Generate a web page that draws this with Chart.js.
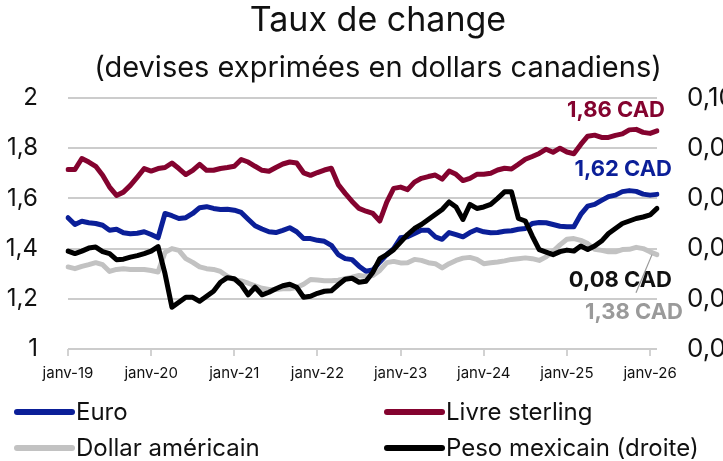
<!DOCTYPE html>
<html lang="fr">
<head>
<meta charset="utf-8">
<title>Taux de change</title>
<script src="https://cdn.jsdelivr.net/npm/chart.js@4"></script>
<style>
  html, body { margin: 0; padding: 0; background: #fff; overflow: hidden; }
  #wrap { width: 756px; height: 461px; }
</style>
</head>
<body>
<div id="wrap"><canvas id="fxChart" width="756" height="461"></canvas></div>
<script>
// valeurs mensuelles, janv-19 a fevr-26 (CAD par unite de devise)
const euro = [
  1.523, 1.496, 1.509, 1.503, 1.500, 1.493, 1.473, 1.477, 1.463, 1.459, 1.461, 1.467,
  1.456, 1.443, 1.540, 1.531, 1.520, 1.523, 1.540, 1.563, 1.567, 1.560, 1.556, 1.557,
  1.553, 1.544, 1.517, 1.491, 1.478, 1.467, 1.464, 1.473, 1.483, 1.467, 1.440, 1.440,
  1.433, 1.429, 1.413, 1.376, 1.360, 1.356, 1.330, 1.310, 1.315, 1.347, 1.376, 1.400,
  1.443, 1.447, 1.460, 1.473, 1.473, 1.447, 1.437, 1.464, 1.456, 1.447, 1.464, 1.476,
  1.467, 1.463, 1.464, 1.469, 1.471, 1.477, 1.480, 1.500, 1.504, 1.503, 1.496, 1.489,
  1.487, 1.487, 1.536, 1.569, 1.576, 1.592, 1.607, 1.613, 1.627, 1.631, 1.628, 1.617,
  1.613, 1.616
];
const livre = [
  1.715, 1.715, 1.759, 1.745, 1.728, 1.692, 1.645, 1.612, 1.625, 1.652, 1.685, 1.719,
  1.709, 1.719, 1.723, 1.741, 1.719, 1.695, 1.712, 1.736, 1.712, 1.712, 1.719, 1.723,
  1.728, 1.755, 1.745, 1.728, 1.712, 1.708, 1.723, 1.737, 1.745, 1.741, 1.702, 1.692,
  1.703, 1.713, 1.720, 1.655, 1.620, 1.588, 1.560, 1.549, 1.540, 1.510, 1.585, 1.640,
  1.645, 1.635, 1.665, 1.680, 1.687, 1.693, 1.677, 1.709, 1.696, 1.671, 1.680, 1.696,
  1.696, 1.700, 1.713, 1.720, 1.717, 1.736, 1.756, 1.767, 1.779, 1.796, 1.784, 1.800,
  1.785, 1.778, 1.815, 1.848, 1.852, 1.843, 1.843, 1.851, 1.857, 1.873, 1.875, 1.863,
  1.859, 1.869
];
const dollar = [
  1.327, 1.320, 1.329, 1.336, 1.344, 1.336, 1.309, 1.317, 1.320, 1.317, 1.317, 1.317,
  1.313, 1.307, 1.385, 1.400, 1.393, 1.360, 1.345, 1.327, 1.320, 1.317, 1.309, 1.290,
  1.276, 1.271, 1.262, 1.252, 1.242, 1.237, 1.237, 1.240, 1.240, 1.245, 1.258, 1.277,
  1.275, 1.272, 1.272, 1.274, 1.280, 1.286, 1.293, 1.289, 1.293, 1.313, 1.344, 1.349,
  1.343, 1.344, 1.357, 1.353, 1.344, 1.340, 1.323, 1.340, 1.353, 1.362, 1.365, 1.357,
  1.340, 1.344, 1.347, 1.351, 1.357, 1.360, 1.363, 1.360, 1.353, 1.367, 1.389, 1.415,
  1.437, 1.440, 1.433, 1.420, 1.397, 1.393, 1.387, 1.387, 1.396, 1.397, 1.405, 1.400,
  1.387, 1.376
];
const peso = [
  0.0695, 0.0690, 0.0695, 0.0701, 0.0703, 0.0694, 0.0690, 0.0678, 0.0679, 0.0683, 0.0686, 0.0690,
  0.0695, 0.0704, 0.0650, 0.0583, 0.0593, 0.0603, 0.0603, 0.0595, 0.0605, 0.0615, 0.0633, 0.0642,
  0.0640, 0.0628, 0.0608, 0.0623, 0.0608, 0.0613, 0.0620, 0.0626, 0.0629, 0.0623, 0.0603, 0.0605,
  0.0611, 0.0615, 0.0616, 0.0628, 0.0639, 0.0641, 0.0633, 0.0635, 0.0653, 0.0680, 0.0688, 0.0698,
  0.0713, 0.0728, 0.0740, 0.0748, 0.0758, 0.0768, 0.0778, 0.0793, 0.0783, 0.0758, 0.0788, 0.0780,
  0.0783, 0.0788, 0.0800, 0.0813, 0.0813, 0.0760, 0.0755, 0.0725, 0.0698, 0.0693, 0.0688, 0.0694,
  0.0697, 0.0695, 0.0705, 0.0698, 0.0705, 0.0715, 0.0730, 0.0740, 0.0750, 0.0755, 0.0760, 0.0763,
  0.0767, 0.0780
];

const mois = ['janv', 'févr', 'mars', 'avr', 'mai', 'juin', 'juil', 'août', 'sept', 'oct', 'nov', 'déc'];
const annees = ['19', '20', '21', '22', '23', '24', '25', '26'];
const seriesNoms = ['Euro', 'Livre sterling', 'Dollar américain', 'Peso mexicain (droite)'];
const etiquettesFinTextes = ['1,62 CAD', '1,86 CAD', '1,38 CAD', '0,08 CAD'];

const etiquettes = [];
annees.forEach(a => mois.forEach(m => {
    if (etiquettes.length < euro.length) etiquettes.push(m + '-' + a);
}));

const police = 'Inter, "Noto Sans", sans-serif';
const bleu = '#0b1f98';
const rouge = '#84032f';
const gris = '#c2c2c2';
const noir = '#000000';

// legende en deux colonnes sous le graphique
const legendeBas = {
    id: 'legendeBas',
    afterDraw(chart) {
        const ctx = chart.ctx;
        const places = [[14, 412], [384, 412], [14, 448], [384, 448]];
        ctx.save();
        ctx.font = '24px ' + police;
        ctx.textBaseline = 'middle';
        ctx.lineCap = 'round';
        chart.data.datasets.forEach((ds, i) => {
            const [px, py] = places[i];
            ctx.strokeStyle = ds.borderColor;
            ctx.lineWidth = 6;
            ctx.beginPath();
            ctx.moveTo(px + 3, py);
            ctx.lineTo(px + 58, py);
            ctx.stroke();
            ctx.fillStyle = '#111';
            ctx.fillText(ds.label, px + 62, py + 1);
        });
        ctx.restore();
    }
};

// valeurs en fin de serie
const etiquettesFin = {
    id: 'etiquettesFin',
    afterDatasetsDraw(chart) {
        const { ctx, scales: { x, y } } = chart;
        const xFin = x.getPixelForValue(euro.length - 1);
        const reglages = [
            { couleur: bleu, dx: 15, yv: 1.716 },
            { couleur: rouge, dx: 8, yv: 1.952 },
            { couleur: '#9a9a9a', dx: 26, yv: 1.144 },
            { couleur: '#111', dx: 15, yv: 1.272 }
        ];
        ctx.save();
        // trait de rappel pour le dollar americain
        ctx.strokeStyle = '#999';
        ctx.lineWidth = 1.2;
        ctx.beginPath();
        ctx.moveTo(xFin - 5, y.getPixelForValue(dollar[dollar.length - 1]));
        ctx.lineTo(xFin - 21, y.getPixelForValue(1.224));
        ctx.stroke();
        ctx.font = 'bold 22px ' + police;
        ctx.textAlign = 'right';
        ctx.textBaseline = 'middle';
        reglages.forEach((r, i) => {
            ctx.fillStyle = r.couleur;
            ctx.fillText(etiquettesFinTextes[i], xFin + r.dx, y.getPixelForValue(r.yv));
        });
        ctx.restore();
    }
};

new Chart(document.getElementById('fxChart'), {
    type: 'line',
    data: {
        labels: etiquettes,
        datasets: [
            { label: seriesNoms[0], data: euro, borderColor: bleu, yAxisID: 'y', order: 2 },
            { label: seriesNoms[1], data: livre, borderColor: rouge, yAxisID: 'y', order: 1 },
            { label: seriesNoms[2], data: dollar, borderColor: gris, yAxisID: 'y', order: 3 },
            { label: seriesNoms[3], data: peso, borderColor: noir, yAxisID: 'y2', order: 0 }
        ]
    },
    options: {
        responsive: false,
        animation: false,
        layout: { padding: { bottom: 72 } },
        elements: {
            point: { radius: 0 },
            line: { borderWidth: 5, tension: 0, borderJoinStyle: 'round', borderCapStyle: 'round' }
        },
        plugins: {
            legend: { display: false },
            tooltip: { enabled: false },
            title: {
                display: true,
                text: 'Taux de change',
                color: '#111',
                font: { family: police, size: 34, weight: 'normal' },
                padding: { top: 0, bottom: 0 }
            },
            subtitle: {
                display: true,
                text: '(devises exprimées en dollars canadiens)',
                color: '#111',
                font: { family: police, size: 29 },
                padding: { top: 10, bottom: 12.4 }
            }
        },
        scales: {
            x: {
                grid: {
                    drawOnChartArea: false,
                    tickLength: 7,
                    lineWidth: 2,
                    color: c => c.index % 12 === 0 ? '#d2d2d2' : 'rgba(0,0,0,0)'
                },
                border: { display: false },
                ticks: {
                    autoSkip: false,
                    maxRotation: 0,
                    padding: 8,
                    color: '#111',
                    font: { family: police, size: 15 },
                    callback(v, i) { return i % 12 === 0 ? this.getLabelForValue(v) : ''; }
                },
                afterFit(s) { s.height = 40; }
            },
            y: {
                min: 1,
                max: 2,
                grid: { color: '#cccccc', lineWidth: 2, drawTicks: false },
                border: { display: false },
                ticks: {
                    stepSize: 0.2,
                    padding: 30,
                    color: '#111',
                    font: { family: police, size: 24 },
                    callback: v => String(Math.round(v * 10) / 10).replace('.', ',')
                },
                afterFit(s) { s.width = 68; }
            },
            y2: {
                position: 'right',
                min: 0.05,
                max: 0.10,
                grid: { drawOnChartArea: false, drawTicks: false },
                border: { display: false },
                ticks: {
                    stepSize: 0.01,
                    padding: 30,
                    color: '#111',
                    font: { family: police, size: 26 },
                    callback: v => v.toFixed(2).replace('.', ',')
                },
                afterFit(s) { s.width = 99; }
            }
        }
    },
    plugins: [legendeBas, etiquettesFin]
});
</script>
</body>
</html>
